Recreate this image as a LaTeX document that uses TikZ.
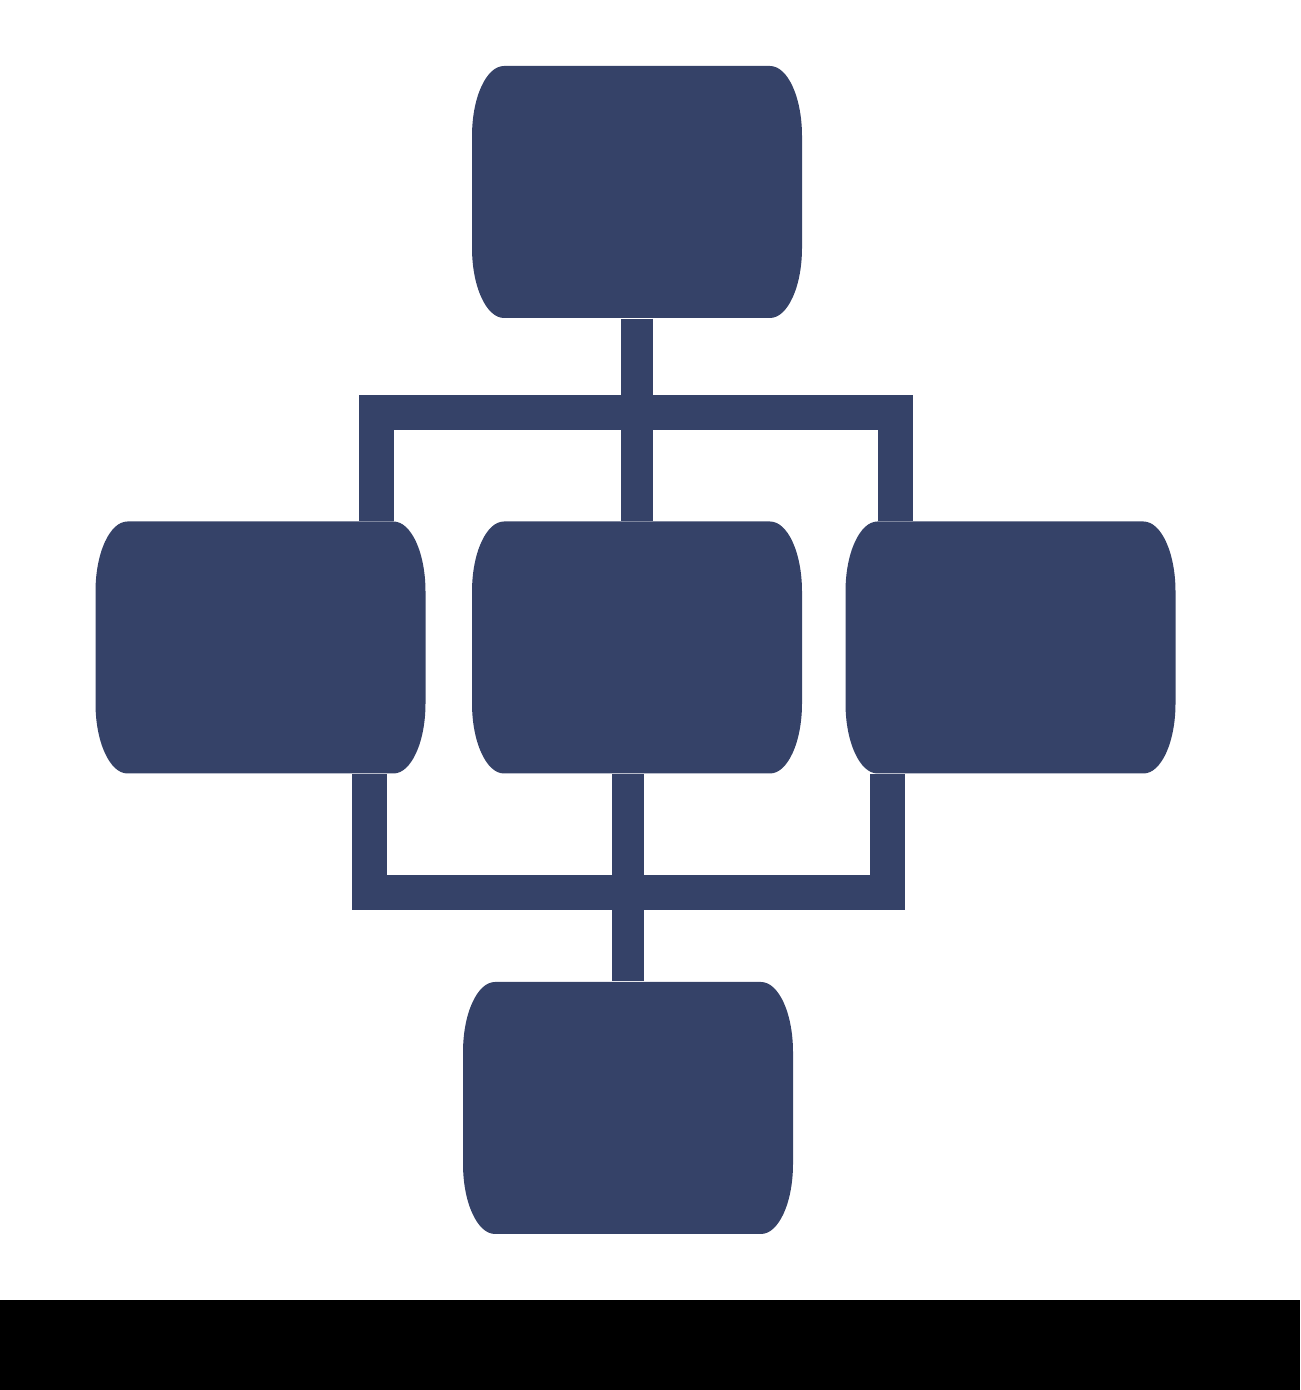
\documentclass[tikz,border=0pt]{standalone}
\usepackage{xcolor}
\usepackage{tikz}
\usetikzlibrary{calc,positioning}
\definecolor{mnavy}{RGB}{53,66,104}

\begin{document}
\begin{tikzpicture}[x=0.1mm,y=0.1mm]
    \tikzstyle{unit}=[minimum width=33mm,minimum height=25.2mm,inner sep=0pt,draw=none,
      path picture={
        \fill[mnavy] ([xshift=3.2mm]path picture bounding box.north west)
          -- ([xshift=-3.2mm]path picture bounding box.north east)
          arc[start angle=90,end angle=0,x radius=3.2mm,y radius=7mm]
          -- ([yshift=7mm]path picture bounding box.south east)
          arc[start angle=0,end angle=-90,x radius=3.2mm,y radius=7mm]
          -- ([xshift=3.2mm]path picture bounding box.south west)
          arc[start angle=270,end angle=180,x radius=3.2mm,y radius=7mm]
          -- ([yshift=-7mm]path picture bounding box.north west)
          arc[start angle=180,end angle=90,x radius=3.2mm,y radius=7mm]
          -- cycle;}]
    \tikzstyle{link}=[draw=mnavy,line width=3.2mm]
    \tikzstyle{bracket}=[draw=mnavy,line width=3.5mm,line join=miter]

    \useasboundingbox (0,0) rectangle (1300,1390);
    \fill[black] (0,0) rectangle (1300,90);

    \node[unit] (top) at (637,1198) {};
    \node[unit] (left) at (260.5,742.5) {};
    \node[unit] (mid) at (637,742.5) {};
    \node[unit] (right) at (1010.5,742.5) {};
    \node[unit] (bottom) at (628,282) {};

    \coordinate (ul) at (376.5,977.5);
    \coordinate (ur) at (895.5,977.5);
    \coordinate (ll) at (369.5,497.5);
    \coordinate (lr) at (887.5,497.5);

    \draw[link] (top.south) -- (mid.north);
    \draw[bracket] (ul |- left.north) -- (ul) -- (ur) -- (ur |- right.north);
    \draw[bracket] (ll |- left.south) -- (ll) -- (lr) -- (lr |- right.south);
    \draw[link] (bottom.north |- mid.south) -- (bottom.north);
\end{tikzpicture}
\end{document}
